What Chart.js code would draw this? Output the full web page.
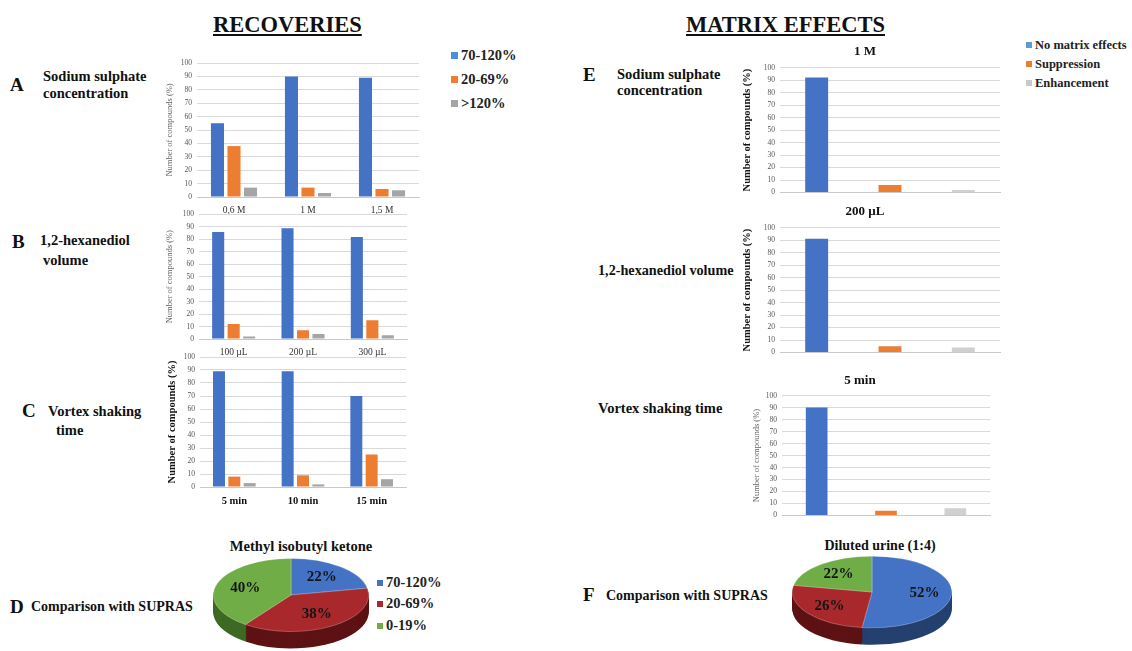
<!DOCTYPE html>
<html>
<head>
<meta charset="utf-8">
<script src="https://cdn.jsdelivr.net/npm/chart.js@4.4.1/dist/chart.umd.min.js"></script>
<style>
  html, body { margin: 0; padding: 0; background: #fff; }
  #fig { position: relative; width: 1132px; height: 651px; overflow: hidden; background: #fff; }
  #fig canvas { position: absolute; }
  .t { position: absolute; font-family: 'Liberation Serif', serif; font-weight: bold; color: #111; white-space: nowrap; line-height: 1; }
  .head { font-size: 22.5px; text-decoration: underline; }
  .big { font-size: 19px; }
  .lbl { font-size: 14.5px; }
  .lg { position: absolute; font-family: 'Liberation Serif', serif; font-weight: bold; color: #222; white-space: nowrap; line-height: 1; }
  .lg i { display: inline-block; width: 7px; height: 7px; margin-right: 3px; vertical-align: 1px; }
</style>
</head>
<body>
<div id="fig">
  <div class="t head" style="left:213px;top:14px">RECOVERIES</div>
  <div class="t head" style="left:686px;top:14px">MATRIX EFFECTS</div>

  <div class="t big" style="left:10px;top:75px">A</div>
  <div class="t lbl" style="left:43px;top:69px">Sodium sulphate</div>
  <div class="t lbl" style="left:43px;top:86px">concentration</div>
  <div class="t big" style="left:12px;top:232px">B</div>
  <div class="t lbl" style="left:40px;top:233px">1,2-hexanediol</div>
  <div class="t lbl" style="left:43px;top:253px">volume</div>
  <div class="t big" style="left:22px;top:401px">C</div>
  <div class="t lbl" style="left:48px;top:404px">Vortex shaking</div>
  <div class="t lbl" style="left:56px;top:423px">time</div>
  <div class="t big" style="left:10px;top:597px">D</div>
  <div class="t" style="left:31px;top:600px;font-size:14px">Comparison with SUPRAS</div>

  <div class="t big" style="left:583px;top:65px">E</div>
  <div class="t" style="left:617px;top:67px;font-size:14.5px">Sodium sulphate</div>
  <div class="t" style="left:617px;top:83px;font-size:14.5px">concentration</div>
  <div class="t" style="left:598px;top:263px;font-size:14.2px">1,2-hexanediol volume</div>
  <div class="t" style="left:598px;top:401px;font-size:14.5px">Vortex shaking time</div>
  <div class="t big" style="left:583px;top:585px">F</div>
  <div class="t" style="left:606px;top:589px;font-size:14px">Comparison with SUPRAS</div>

  <div class="t" style="left:301px;top:539px;font-size:14.6px;transform:translateX(-50%)">Methyl isobutyl ketone</div>
  <div class="t" style="left:880px;top:539px;font-size:14px;transform:translateX(-50%)">Diluted urine (1:4)</div>

  <div id="legRec"></div>
  <div id="legMat"></div>
  <div id="legPie"></div>

  <canvas id="chA" width="262" height="165" style="left:160px;top:52px"></canvas>
  <canvas id="chB" width="250" height="154" style="left:160px;top:205px"></canvas>
  <canvas id="chC" width="248" height="160" style="left:160px;top:347px"></canvas>
  <canvas id="chE1" width="272" height="162" style="left:730px;top:40px"></canvas>
  <canvas id="chE2" width="272" height="162" style="left:730px;top:200px"></canvas>
  <canvas id="chE3" width="262" height="156" style="left:730px;top:369px"></canvas>
  <canvas id="pieD" width="156" height="156" style="left:213px;top:517px"></canvas>
  <canvas id="pieF" width="160" height="160" style="left:792px;top:512px"></canvas>
</div>

<script>
// ---- data ----
const REC_SERIES = ['70-120%', '20-69%', '>120%'];
const MAT_SERIES = ['No matrix effects', 'Suppression', 'Enhancement'];

const A_LABELS = ['0,6 M', '1 M', '1,5 M'];
const A_OK     = [55, 90, 89];
const A_LOW    = [38, 7, 6];
const A_HIGH   = [7, 3, 5];

const B_LABELS = ['100 µL', '200 µL', '300 µL'];
const B_OK     = [86, 89, 82];
const B_LOW    = [12, 7, 15];
const B_HIGH   = [2, 4, 3];

const C_LABELS = ['5 min', '10 min', '15 min'];
const C_OK     = [89, 89, 70];
const C_LOW    = [8, 9, 25];
const C_HIGH   = [3, 2, 6];

const E1_TITLE = '1 M';
const E1_VALUES = [92, 6, 2];
const E2_TITLE = '200 µL';
const E2_VALUES = [91, 5, 4];
const E3_TITLE = '5 min';
const E3_VALUES = [90, 4, 6];

const D_LABELS = ['70-120%', '20-69%', '0-19%'];
const D_VALUES = [22, 38, 40];
const F_LABELS = ['No matrix effects', 'Suppression', 'Enhancement'];
const F_VALUES = [52, 26, 22];

const Y_TICKS = [0, 10, 20, 30, 40, 50, 60, 70, 80, 90, 100];
const Y_TITLE = 'Number of compounds (%)';

// ---- colours ----
const REC_COLORS = ['#4472C4', '#ED7D31', '#A5A5A5'];
const MAT_COLORS = ['#4472C4', '#ED7D31', '#D0D0D0'];
const PIE_TOP    = ['#4472C4', '#A8282C', '#70AD47'];
const PIE_SIDE   = ['#24406f', '#5e1214', '#3f6a25'];
const SERIF = "'Liberation Serif', serif";

Chart.defaults.font.family = SERIF;

function legend(id, names, colors, left, tops, size, sq) {
  const el = document.getElementById(id);
  names.forEach((n, i) => {
    const d = document.createElement('div');
    d.className = 'lg';
    d.style.left = left + 'px';
    d.style.top = tops[i] + 'px';
    d.style.fontSize = size + 'px';
    d.innerHTML = `<i style="background:${colors[i]};width:${sq}px;height:${sq}px"></i>`;
    d.appendChild(document.createTextNode(n));
    el.appendChild(d);
  });
}
legend('legRec', REC_SERIES, ['#4A8FD9', '#ED7D31', '#A5A5A5'], 451, [48, 72, 96], 14.5, 7);
legend('legMat', MAT_SERIES, ['#5B9BD5', '#ED7D31', '#C8C8C8'], 1026, [39, 58, 77], 12.5, 6);
legend('legPie', D_LABELS, PIE_TOP, 377, [575, 596, 618], 14.5, 6);

function barChart(id, labels, datasets, o) {
  new Chart(document.getElementById(id), {
    type: 'bar',
    data: { labels, datasets },
    options: {
      responsive: false,
      animation: false,
      layout: { padding: { top: o.padTop || 0, right: o.padRight || 0, left: 0, bottom: 0 } },
      datasets: { bar: { categoryPercentage: o.cat, barPercentage: o.bar, skipNull: true } },
      plugins: {
        legend: { display: false },
        tooltip: { enabled: false },
        title: o.title ? {
          display: true, text: o.title, color: '#111',
          font: { family: SERIF, size: 13, weight: 'bold' },
          padding: { top: 4, bottom: o.titleGap }
        } : { display: false }
      },
      scales: {
        x: {
          grid: { display: false },
          border: { color: '#c8c8c8' },
          ticks: {
            display: o.xTicks !== false, color: o.xBold ? '#111' : '#333', padding: 0,
            font: { family: SERIF, size: o.xBold ? 10.5 : 9.5, weight: o.xBold ? 'bold' : 'normal' }
          },
          afterFit: s => { s.height = o.xh; }
        },
        y: {
          min: 0, max: 100,
          afterBuildTicks: s => { s.ticks = Y_TICKS.map(v => ({ value: v })); },
          grid: { color: '#d9d9d9', drawTicks: false },
          border: { display: false },
          ticks: { color: '#555', padding: 5, font: { family: SERIF, size: 7.5 } },
          title: {
            display: true, text: Y_TITLE, padding: { top: o.yPad || 0, bottom: 0 },
            color: o.yBold ? '#111' : '#666',
            font: { family: SERIF, size: o.yBold ? 10.5 : 8.5, weight: o.yBold ? 'bold' : 'normal' }
          },
          afterFit: s => { s.width = o.yw; }
        }
      }
    }
  });
}

function recSets(ok, low, high) {
  return [ok, low, high].map((d, i) => ({ label: REC_SERIES[i], data: d, backgroundColor: REC_COLORS[i] }));
}
function matSets(vals) {
  return vals.map((v, i) => ({
    label: MAT_SERIES[i],
    data: [0, 1, 2].map(j => (j === i ? v : null)),
    backgroundColor: MAT_COLORS[i]
  }));
}

barChart('chA', A_LABELS, recSets(A_OK, A_LOW, A_HIGH), { padTop: 11, padRight: 3, yw: 37, xh: 20, cat: 0.67, bar: 0.79, yPad: 5 });
barChart('chB', B_LABELS, recSets(B_OK, B_LOW, B_HIGH), { padTop: 9, padRight: 3, yw: 39, xh: 20, cat: 0.67, bar: 0.78, yPad: 5 });
barChart('chC', C_LABELS, recSets(C_OK, C_LOW, C_HIGH), { padTop: 10, padRight: 2, yw: 40, xh: 20, cat: 0.67, bar: 0.78, yBold: true, xBold: true, yPad: 6 });

const blank = ['', '', ''];
barChart('chE1', blank, matSets(E1_VALUES), { title: E1_TITLE, titleGap: 8, padRight: 2, yw: 50, xh: 4, cat: 0.34, bar: 0.92, xTicks: false, yBold: true, yPad: 11 });
barChart('chE2', blank, matSets(E2_VALUES), { title: E2_TITLE, titleGap: 8, padRight: 2, yw: 50, xh: 4, cat: 0.34, bar: 0.92, xTicks: false, yBold: true, yPad: 11 });
barChart('chE3', blank, matSets(E3_VALUES), { title: E3_TITLE, titleGap: 7, padRight: 2, yw: 52, xh: 4, cat: 0.34, bar: 0.92, xTicks: false, yPad: 22 });

// flattened "3D" pie: squash the disc and paint a darker wall under it
const pie3d = {
  id: 'pie3d',
  beforeDatasetsDraw(chart, args, opts) {
    const { ctx } = chart;
    const arcs = chart.getDatasetMeta(0).data;
    if (!arcs.length) return;
    const { x, y } = arcs[0];
    for (let d = opts.depth; d > 0; d--) {
      arcs.forEach((a, i) => {
        ctx.save();
        ctx.translate(x, y + d);
        ctx.scale(1, opts.squash);
        ctx.beginPath();
        ctx.moveTo(0, 0);
        ctx.arc(0, 0, a.outerRadius, a.startAngle, a.endAngle);
        ctx.closePath();
        ctx.fillStyle = PIE_SIDE[i];
        ctx.fill();
        ctx.restore();
      });
    }
    ctx.save();
    ctx.translate(x, y);
    ctx.scale(1, opts.squash);
    ctx.translate(-x, -y);
  },
  afterDatasetsDraw(chart, args, opts) {
    const { ctx } = chart;
    ctx.restore();
    const arcs = chart.getDatasetMeta(0).data;
    const vals = chart.data.datasets[0].data;
    arcs.forEach((a, i) => {
      const mid = (a.startAngle + a.endAngle) / 2;
      const r = a.outerRadius * opts.labelR;
      ctx.save();
      ctx.font = `bold 15px ${SERIF}`;
      ctx.fillStyle = '#151515';
      ctx.textAlign = 'center';
      ctx.textBaseline = 'middle';
      ctx.fillText(vals[i] + '%', a.x + Math.cos(mid) * r, a.y + Math.sin(mid) * r * opts.squash);
      ctx.restore();
    });
  }
};

function pieChart(id, labels, values, squash, labelR) {
  new Chart(document.getElementById(id), {
    type: 'pie',
    data: { labels, datasets: [{ data: values, backgroundColor: PIE_TOP, borderWidth: 0.6, borderColor: 'rgba(255,255,255,0.6)' }] },
    options: {
      responsive: false,
      animation: false,
      layout: { padding: 0 },
      plugins: {
        legend: { display: false },
        tooltip: { enabled: false },
        pie3d: { squash, depth: 17, labelR }
      }
    },
    plugins: [pie3d]
  });
}

pieChart('pieD', D_LABELS, D_VALUES, 0.47, 0.62);
pieChart('pieF', F_LABELS, F_VALUES, 0.45, 0.66);
</script>
</body>
</html>
